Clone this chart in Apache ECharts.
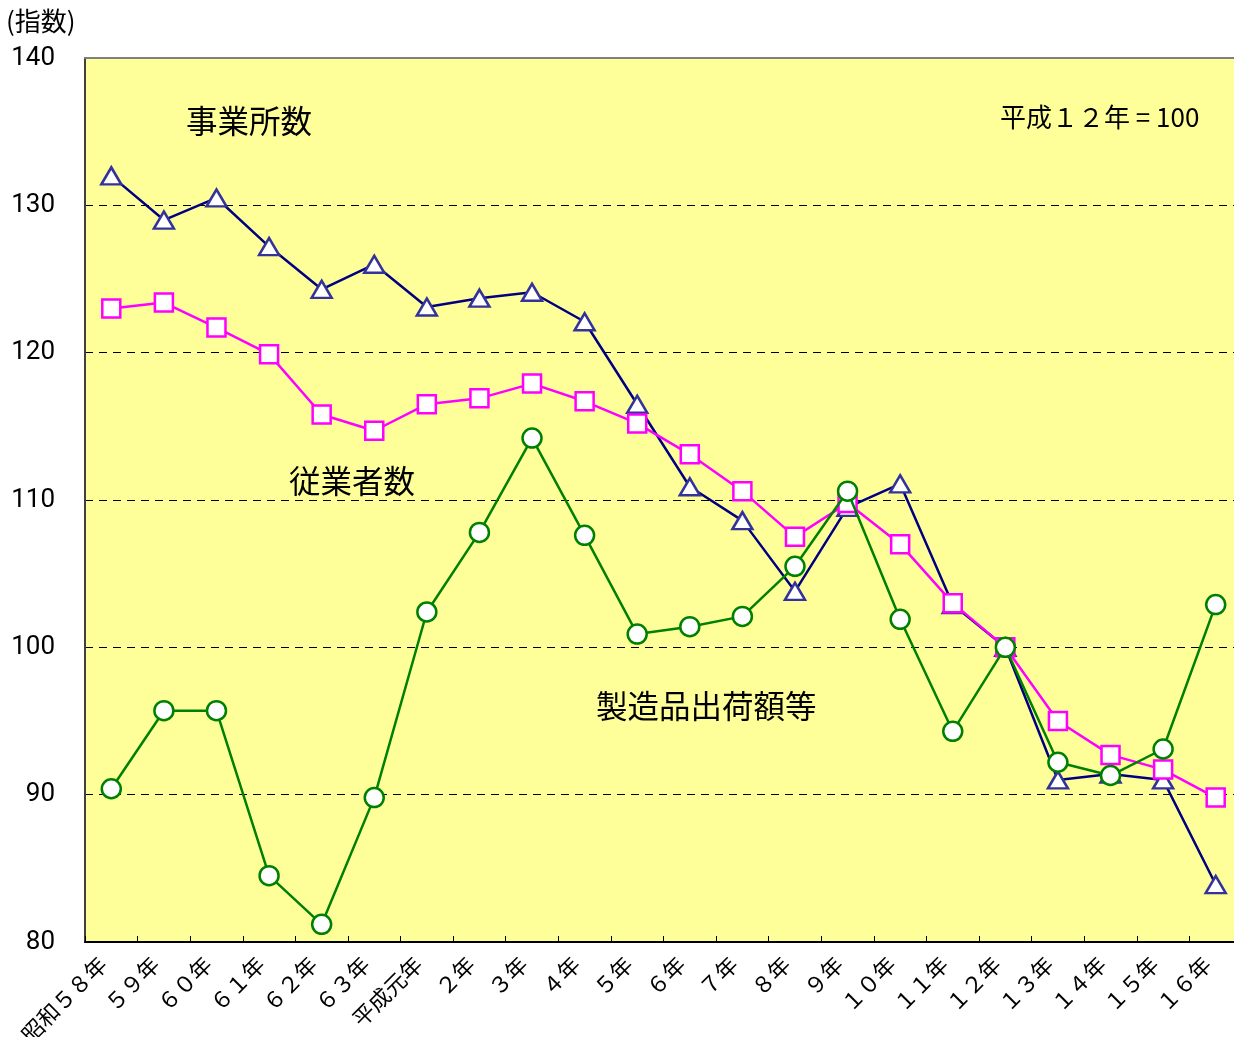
<!DOCTYPE html>
<html>
<head>
<meta charset="utf-8">
<script src="https://cdn.jsdelivr.net/npm/echarts@6/dist/echarts.min.js"></script>
<style>
  html, body { margin: 0; padding: 0; background: #fff; }
  #main { width: 1234px; height: 1037px; }
</style>
</head>
<body>
<div id="main"></div>
<script>
  // 年次
  var years = ['昭和５８年', '５９年', '６０年', '６１年', '６２年', '６３年', '平成元年',
    '２年', '３年', '４年', '５年', '６年', '７年', '８年', '９年', '１０年',
    '１１年', '１２年', '１３年', '１４年', '１５年', '１６年'];

  // 事業所数（平成12年=100）
  var jigyosho = [132.0, 129.0, 130.5, 127.2, 124.3, 126.0, 123.1, 123.7, 124.1, 122.1, 116.5,
    110.9, 108.6, 103.8, 109.5, 111.1, 102.9, 100.0, 91.0, 91.4, 91.0, 83.9];

  // 従業者数
  var jugyosha = [123.0, 123.4, 121.7, 119.9, 115.8, 114.7, 116.5, 116.9, 117.9, 116.7, 115.2,
    113.1, 110.6, 107.5, 109.8, 107.0, 103.0, 100.0, 95.0, 92.7, 91.7, 89.8];

  // 製造品出荷額等
  var shukka = [90.4, 95.7, 95.7, 84.5, 81.2, 89.8, 102.4, 107.8, 114.2, 107.6, 100.9,
    101.4, 102.1, 105.5, 110.6, 101.9, 94.3, 100.0, 92.2, 91.3, 93.1, 102.9];

  var yTicks = [80, 90, 100, 110, 120, 130, 140];

  var fontJP = '"Noto Sans CJK JP", "Noto Sans", sans-serif';

  var myChart = echarts.init(document.getElementById('main'));
  var option = {
    animation: false,
    textStyle: { fontFamily: fontJP },
    grid: {
      show: true,
      left: 85,
      top: 58,
      width: 1157,
      height: 884,
      outerBoundsMode: 'none',
      containLabel: false,
      backgroundColor: '#FFFF99',
      borderColor: '#808080',
      borderWidth: 2
    },
    xAxis: [
      {
        type: 'category',
        data: years,
        boundaryGap: true,
        axisLine: { lineStyle: { color: '#000', width: 2 } },
        axisTick: { show: true, inside: true, length: 6, lineStyle: { color: '#000', width: 1 } },
        axisLabel: {
          rotate: 45,
          interval: 0,
          margin: 10,
          padding: [0, 12, 0, 0],
          fontSize: 22,
          color: '#000',
          fontFamily: fontJP
        }
      },
      {
        // 上枠線
        type: 'category',
        data: years,
        position: 'top',
        axisLine: { lineStyle: { color: '#808080', width: 2 } },
        axisTick: { show: false },
        axisLabel: { show: false },
        splitLine: { show: false }
      }
    ],
    yAxis: {
      type: 'value',
      min: yTicks[0],
      max: yTicks[yTicks.length - 1],
      interval: 10,
      axisLine: { show: true, lineStyle: { color: '#404040', width: 2 } },
      axisTick: { show: false },
      axisLabel: {
        margin: 30,
        fontSize: 26,
        color: '#000',
        fontFamily: 'Roboto, "Liberation Sans", sans-serif'
      },
      splitLine: {
        show: true,
        lineStyle: { color: '#000', width: 1, type: [8, 6] }
      }
    },
    series: [
      {
        name: '事業所数',
        type: 'line',
        data: jigyosho,
        symbol: 'triangle',
        symbolSize: [20, 17],
        lineStyle: { color: '#000080', width: 2.5 },
        itemStyle: { color: '#fff', borderColor: '#333399', borderWidth: 2.5 },
        z: 3
      },
      {
        name: '従業者数',
        type: 'line',
        data: jugyosha,
        symbol: 'rect',
        symbolSize: 18,
        lineStyle: { color: '#FF00FF', width: 2.5 },
        itemStyle: { color: '#fff', borderColor: '#FF00FF', borderWidth: 2.5 },
        z: 4
      },
      {
        name: '製造品出荷額等',
        type: 'line',
        data: shukka,
        symbol: 'circle',
        symbolSize: 19,
        lineStyle: { color: '#008000', width: 2.5 },
        itemStyle: { color: '#fff', borderColor: '#008000', borderWidth: 2.5 },
        z: 5
      }
    ],
    graphic: [
      { type: 'text', left: 6, top: 8, style: { text: '(指数)', font: '26px ' + fontJP, fill: '#000' } },
      { type: 'text', left: 186, top: 105, style: { text: '事業所数', font: '31.5px ' + fontJP, fill: '#000' } },
      { type: 'text', left: 289, top: 465, style: { text: '従業者数', font: '31.5px ' + fontJP, fill: '#000' } },
      { type: 'text', left: 596, top: 690, style: { text: '製造品出荷額等', font: '31.5px ' + fontJP, fill: '#000' } },
      { type: 'text', left: 1000, top: 104, style: { text: '平成１２年 = 100', font: '26px ' + fontJP, fill: '#000' } }
    ]
  };
  myChart.setOption(option);
</script>
</body>
</html>
